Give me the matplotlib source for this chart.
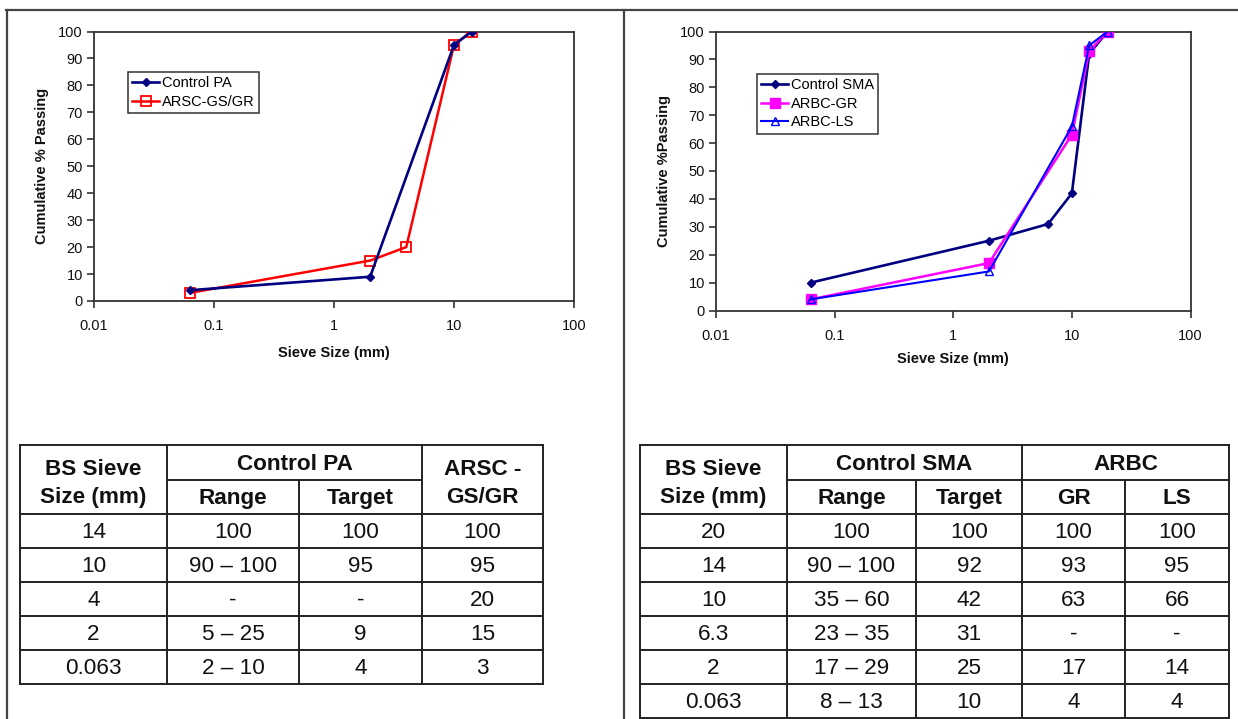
import matplotlib
matplotlib.use("Agg")
import matplotlib.pyplot as plt
from matplotlib.ticker import FixedLocator, FixedFormatter, NullLocator

plt.rcParams['font.family'] = ['Liberation Sans', 'DejaVu Sans']

# ---- Grading data: porous asphalt (PA) ----
pa_sieve = [0.063, 2, 10, 14]
pa_control = [4, 9, 95, 100]
arsc_sieve = [0.063, 2, 4, 10, 14]
arsc_gsgr = [3, 15, 20, 95, 100]

# ---- Grading data: stone mastic asphalt (SMA) ----
sma_sieve = [0.063, 2, 6.3, 10, 14, 20]
sma_control = [10, 25, 31, 42, 92, 100]
arbc_sieve = [0.063, 2, 10, 14, 20]
arbc_gr = [4, 17, 63, 93, 100]
arbc_ls = [4, 14, 66, 95, 100]

x_ticks = [0.01, 0.1, 1, 10, 100]
x_tick_labels = ["0.01", "0.1", "1", "10", "100"]
y_ticks = list(range(0, 101, 10))

# ---- Table contents ----
pa_table_sizes = ["14", "10", "4", "2", "0.063"]
pa_table_range = ["100", "90 \u2013 100", "-", "5 \u2013 25", "2 \u2013 10"]
pa_table_target = ["100", "95", "-", "9", "4"]
pa_table_arsc = ["100", "95", "20", "15", "3"]

sma_table_sizes = ["20", "14", "10", "6.3", "2", "0.063"]
sma_table_range = ["100", "90 \u2013 100", "35 \u2013 60", "23 \u2013 35", "17 \u2013 29", "8 \u2013 13"]
sma_table_target = ["100", "92", "42", "31", "25", "10"]
sma_table_gr = ["100", "93", "63", "-", "17", "4"]
sma_table_ls = ["100", "95", "66", "-", "14", "4"]

W, H = 1238, 719
fig = plt.figure(figsize=(W / 100, H / 100), dpi=100)
fig.patch.set_facecolor("white")

# Background layer in pixel coordinates for frame lines and tables
bg = fig.add_axes([0, 0, 1, 1], zorder=0)
bg.set_xlim(0, W)
bg.set_ylim(H, 0)
bg.axis("off")

frame_col = "#444444"
bg.plot([6, W], [9.5, 9.5], color=frame_col, lw=1.6)
bg.plot([6.5, 6.5], [9.5, H], color=frame_col, lw=1.6)
bg.plot([623.5, 623.5], [9.5, H], color=frame_col, lw=1.6)


def px_axes(x0, y0, x1, y1):
    return fig.add_axes([x0 / W, 1 - y1 / H, (x1 - x0) / W, (y1 - y0) / H], zorder=2)


def style_axes(ax, ylabel, xlabelpad):
    ax.set_xscale("log")
    ax.set_xlim(0.01, 100)
    ax.set_ylim(0, 100)
    ax.xaxis.set_major_locator(FixedLocator(x_ticks))
    ax.xaxis.set_major_formatter(FixedFormatter(x_tick_labels))
    ax.xaxis.set_minor_locator(NullLocator())
    ax.set_yticks(y_ticks)
    for s in ax.spines.values():
        s.set_color("#333333")
        s.set_linewidth(1.3)
    ax.tick_params(axis="both", direction="out", length=5, width=1.2,
                   color="#333333", labelsize=10.5, labelcolor="#111111", pad=3)
    ax.tick_params(axis="x", pad=8)
    ax.set_xlabel("Sieve Size (mm)", fontsize=10.5, fontweight="bold",
                  labelpad=xlabelpad, color="#111111")
    ax.set_ylabel(ylabel, fontsize=10.5, fontweight="bold", labelpad=7, color="#111111")
    ax.set_facecolor("white")


def make_legend(ax, x, y):
    leg = ax.legend(loc="upper left", bbox_to_anchor=(x / W, 1 - y / H),
                    bbox_transform=fig.transFigure, fontsize=10.5, frameon=True,
                    fancybox=False, borderpad=0.3, handlelength=1.8,
                    handletextpad=0.2, labelspacing=0.3, borderaxespad=0)
    leg.get_frame().set_edgecolor("black")
    leg.get_frame().set_linewidth(1.1)
    return leg


# ---- Left chart ----
ax1 = px_axes(94, 31.5, 574, 301)
ax1.plot(pa_sieve, pa_control, color="#000080", lw=1.9, marker="D", ms=4.5,
         mfc="#000080", mec="#000080", label="Control PA", zorder=4)
ax1.plot(arsc_sieve, arsc_gsgr, color="#FF0000", lw=1.8, marker="s", ms=6.5,
         mfc="none", mec="#FF0000", mew=1.3, label="ARSC-GS/GR", zorder=3)
style_axes(ax1, "Cumulative % Passing", 9)
make_legend(ax1, 128, 72)

# ---- Right chart ----
ax2 = px_axes(716, 31.5, 1190.5, 310.5)
ax2.plot(sma_sieve, sma_control, color="#000080", lw=1.9, marker="D", ms=4.5,
         mfc="#000080", mec="#000080", label="Control SMA", zorder=3)
ax2.plot(arbc_sieve, arbc_gr, color="#FF00FF", lw=1.8, marker="s", ms=6.5,
         mfc="#FF00FF", mec="#FF00FF", label="ARBC-GR", zorder=4)
ax2.plot(arbc_sieve, arbc_ls, color="#0000FF", lw=1.5, marker="^", ms=5.5,
         mfc="none", mec="#0000FF", mew=1.0, label="ARBC-LS", zorder=5)
style_axes(ax2, "Cumulative %Passing", 7)
make_legend(ax2, 757, 74)

# ---- Tables ----
tcol = "#222222"
tlw = 1.4
fs_t = 16.2


def hline(x0, x1, y):
    bg.plot([x0, x1], [y, y], color=tcol, lw=tlw, solid_capstyle="projecting")


def vline(x, y0, y1):
    bg.plot([x, x], [y0, y1], color=tcol, lw=tlw, solid_capstyle="projecting")


def cell_text(x0, x1, y0, y1, s, bold=False, dy=1.5):
    bg.text((x0 + x1) / 2, (y0 + y1) / 2 + dy, s, ha="center", va="center",
            fontsize=fs_t, fontweight="bold" if bold else "normal",
            color="#111111", linespacing=1.38)


row_top = 445
row_mid = 480
row_hdr = 514
row_h = 34

# Left table: columns x positions
lc = [20, 167, 299, 422, 543]
n_left = len(pa_table_sizes)
l_bottom = row_hdr + n_left * row_h
hline(lc[0], lc[-1], row_top)
hline(lc[1], lc[3], row_mid)
for i in range(n_left + 1):
    hline(lc[0], lc[-1], row_hdr + i * row_h)
vline(lc[0], row_top, l_bottom)
vline(lc[1], row_top, l_bottom)
vline(lc[2], row_mid, l_bottom)
vline(lc[3], row_top, l_bottom)
vline(lc[4], row_top, l_bottom)
cell_text(lc[0], lc[1], row_top, row_hdr, "BS Sieve\nSize (mm)", bold=True, dy=4)
cell_text(lc[1], lc[3], row_top, row_mid, "Control PA", bold=True)
cell_text(lc[1], lc[2], row_mid, row_hdr, "Range", bold=True)
cell_text(lc[2], lc[3], row_mid, row_hdr, "Target", bold=True)
cell_text(lc[3], lc[4], row_top, row_hdr, "ARSC -\nGS/GR", bold=True, dy=4)
for i in range(n_left):
    y0 = row_hdr + i * row_h
    y1 = y0 + row_h
    cols = [pa_table_sizes[i], pa_table_range[i], pa_table_target[i], pa_table_arsc[i]]
    for j, s in enumerate(cols):
        cell_text(lc[j], lc[j + 1], y0, y1, s)

# Right table
rc = [640, 787, 916, 1022, 1125, 1229]
n_right = len(sma_table_sizes)
r_bottom = row_hdr + n_right * row_h
hline(rc[0], rc[-1], row_top)
hline(rc[1], rc[-1], row_mid)
for i in range(n_right + 1):
    hline(rc[0], rc[-1], row_hdr + i * row_h)
vline(rc[0], row_top, r_bottom)
vline(rc[1], row_top, r_bottom)
vline(rc[2], row_mid, r_bottom)
vline(rc[3], row_top, r_bottom)
vline(rc[4], row_mid, r_bottom)
vline(rc[5], row_top, r_bottom)
cell_text(rc[0], rc[1], row_top, row_hdr, "BS Sieve\nSize (mm)", bold=True, dy=4)
cell_text(rc[1], rc[3], row_top, row_mid, "Control SMA", bold=True)
cell_text(rc[1], rc[2], row_mid, row_hdr, "Range", bold=True)
cell_text(rc[2], rc[3], row_mid, row_hdr, "Target", bold=True)
cell_text(rc[3], rc[5], row_top, row_mid, "ARBC", bold=True)
cell_text(rc[3], rc[4], row_mid, row_hdr, "GR", bold=True)
cell_text(rc[4], rc[5], row_mid, row_hdr, "LS", bold=True)
for i in range(n_right):
    y0 = row_hdr + i * row_h
    y1 = y0 + row_h
    cols = [sma_table_sizes[i], sma_table_range[i], sma_table_target[i],
            sma_table_gr[i], sma_table_ls[i]]
    for j, s in enumerate(cols):
        cell_text(rc[j], rc[j + 1], y0, y1, s)

fig.savefig("out.png", dpi=100, facecolor="white")
